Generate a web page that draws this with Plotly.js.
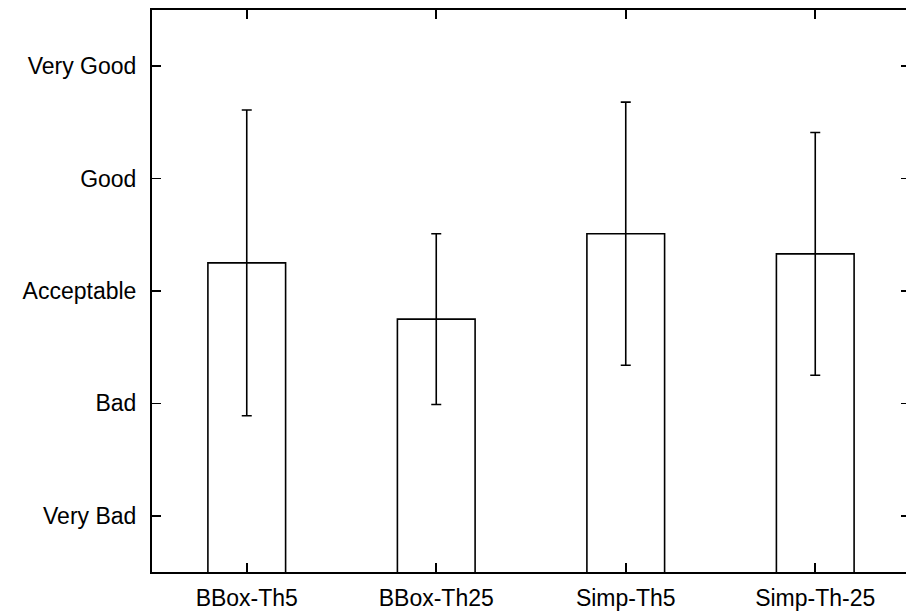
<!DOCTYPE html>
<html>
<head>
<meta charset="utf-8">
<script src="https://cdn.plot.ly/plotly-3.0.1.min.js"></script>
<style>
html, body { margin: 0; padding: 0; overflow: hidden; background: #fff; }
#chart { width: 910px; height: 613px; }
</style>
</head>
<body>
<div id="chart"></div>
<script>
const categories = ["BBox-Th5", "BBox-Th25", "Simp-Th5", "Simp-Th-25"];
const means = [3.25, 2.75, 3.51, 3.33];
const errors = [1.36, 0.76, 1.17, 1.08];
const tickValues = [1, 2, 3, 4, 5];
const tickLabels = ["Very Bad", "Bad", "Acceptable", "Good", "Very Good"];

const trace = {
  type: "bar",
  x: [0, 1, 2, 3],
  y: means,
  width: 0.41,
  marker: { color: "#ffffff", line: { color: "#000000", width: 1.6 } },
  error_y: { type: "data", array: errors, visible: true, color: "#000000", thickness: 1.6, width: 5 },
  hoverinfo: "none"
};

const font = { family: "Liberation Sans, Arial, sans-serif", size: 23, color: "#000000" };

const layout = {
  width: 910,
  height: 613,
  margin: { l: 152, r: 0, t: 10, b: 41 },
  paper_bgcolor: "#ffffff",
  plot_bgcolor: "#ffffff",
  showlegend: false,
  font: font,
  xaxis: {
    range: [-0.5, 3.5],
    tickmode: "array",
    tickvals: [0, 1, 2, 3],
    ticktext: categories,
    ticks: "inside",
    ticklen: 9,
    tickwidth: 1.6,
    tickcolor: "#000",
    showline: true,
    linecolor: "#000",
    linewidth: 2,
    mirror: "allticks",
    showgrid: false,
    zeroline: false,
    tickfont: font,
    ticklabelstandoff: 4
  },
  yaxis: {
    range: [0.5, 5.5],
    tickmode: "array",
    tickvals: tickValues,
    ticktext: tickLabels,
    ticks: "inside",
    ticklen: 9,
    tickwidth: 1.6,
    tickcolor: "#000",
    showline: true,
    linecolor: "#000",
    linewidth: 2,
    mirror: "allticks",
    showgrid: false,
    zeroline: false,
    tickfont: font,
    ticklabelstandoff: 9
  }
};

Plotly.newPlot("chart", [trace], layout, { staticPlot: true, displayModeBar: false });
</script>
</body>
</html>
